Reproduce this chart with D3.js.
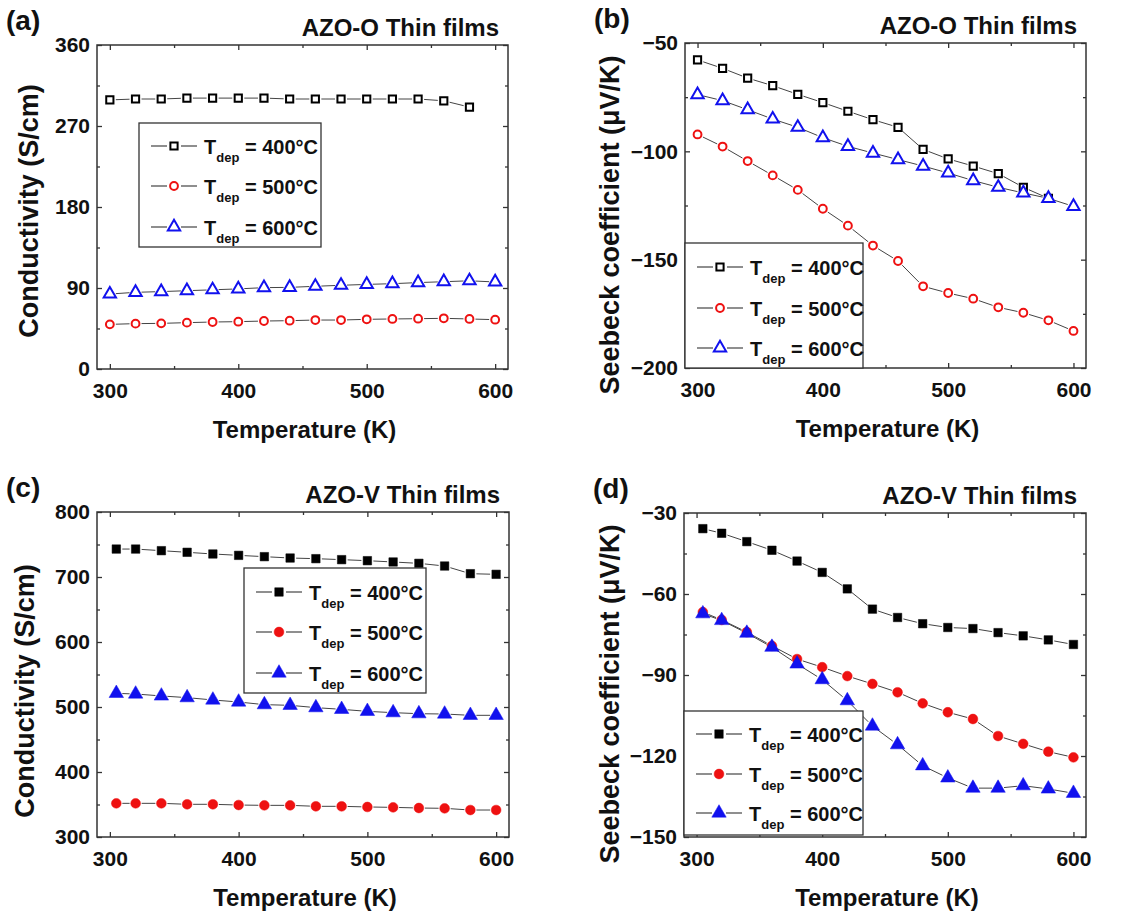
<!DOCTYPE html>
<html>
<head>
<meta charset="utf-8">
<script src="https://cdn.jsdelivr.net/npm/d3@7"></script>
<style>
  body { margin: 0; background: #fff; }
  text { font-family: "Liberation Sans", Arial, sans-serif; font-weight: bold; fill: #111; }
</style>
</head>
<body>
<svg id="chart" width="1144" height="912"></svg>
<script>
// temperaturas (K)
const tempsO = [300, 320, 340, 360, 380, 400, 420, 440, 460, 480, 500, 520, 540, 560, 580, 600];
const tempsV = [305, 320, 340, 360, 380, 400, 420, 440, 460, 480, 500, 520, 540, 560, 580, 600];

// (a) conductividad AZO-O
const condO400 = [299, 300, 300, 301, 301, 301, 301, 300, 300, 300, 300, 300, 300, 298, 291];
const condO500 = [49.6, 50.4, 50.7, 51.5, 52.2, 52.6, 53.3, 53.7, 54.4, 54.4, 55.2, 55.6, 55.9, 56.3, 55.6, 54.8];
const condO600 = [83.3, 85.2, 86, 87, 88, 89, 90.4, 90.7, 91.9, 93, 94, 94.8, 96, 97, 98, 96.7];

// (b) Seebeck AZO-O
const seebO400 = [-57.8, -61.7, -66.2, -69.7, -73.7, -77.5, -81.5, -85.4, -88.9, -99.1, -103.5, -106.8, -110.3, -116.6, -121.7];
const seebO500 = [-92.2, -97.8, -104.5, -111.1, -117.8, -126.5, -134.3, -143.5, -150.6, -162.3, -165.4, -168, -172, -174.5, -178, -182.9];
const seebO600 = [-73.8, -76.6, -80.8, -85.1, -88.9, -93.7, -97.7, -100.8, -103.8, -106.8, -110, -113.5, -116.6, -119.2, -121.7, -125.4];

// (c) conductividad AZO-V
const condV400 = [743, 743, 740.5, 738, 735.4, 733.3, 731.3, 729.2, 728.2, 726.7, 725.1, 723.1, 721, 716.9, 705.1, 704.1];
const condV500 = [351.8, 351.8, 351.8, 350.3, 350.3, 349.2, 348.7, 348.7, 347.2, 347.2, 346.2, 345.6, 344.6, 344.1, 341.5, 341.5];
const condV600 = [521, 520, 517, 514.4, 510.8, 507.7, 503.6, 502.6, 499, 496.4, 493.3, 491.3, 489.7, 489.2, 487.2, 487.2];

// (d) Seebeck AZO-V
const seebV400 = [-35.8, -37.5, -40.6, -43.8, -47.8, -52, -58.1, -65.6, -68.7, -71, -72.4, -72.8, -74.3, -75.5, -77, -78.7];
const seebV500 = [-66.7, -69.6, -74.1, -79.2, -84.1, -87.1, -90.4, -93.3, -96.4, -100.5, -103.8, -106.3, -112.6, -115.5, -118.4, -120.5];
const seebV600 = [-67.3, -69.8, -74.5, -79.7, -85.9, -91.7, -99.5, -108.9, -115.8, -123.6, -128.1, -131.9, -131.9, -131, -132.2, -133.8];

const depTemps = ["400", "500", "600"];
const seriesColors = ["#000000", "#ee1111", "#1111ee"];
const seriesSymbols = [d3.symbolSquare, d3.symbolCircle, d3.symbolTriangle];
const xTicks = [300, 400, 500, 600];
const xMinor = [350, 450, 550];

const svg = d3.select("#chart");

const paneles = [
  { label: "(a)", title: "AZO-O Thin films", yTitle: "Conductivity (S/cm)",
    left: 97, right: 508, top: 45, bottom: 369,
    yDomain: [0, 360], yTicks: [0, 90, 180, 270, 360], yMinor: [45, 135, 225, 315],
    temps: tempsO, series: [condO400, condO500, condO600], filled: false,
    yTitleX: 38, yTitleY: 211, legend: { x: 139, y: 123, w: 182, h: 124, rows: [23, 63, 104] } },
  { label: "(b)", title: "AZO-O Thin films", yTitle: "Seebeck coefficient (\u03bcV/K)",
    left: 685, right: 1086, top: 43, bottom: 368,
    yDomain: [-200, -50], yTicks: [-200, -150, -100, -50], yMinor: [-175, -125, -75],
    temps: tempsO, series: [seebO400, seebO500, seebO600], filled: false,
    yTitleX: 619, yTitleY: 225, legend: { x: 685, y: 243, w: 178, h: 125, rows: [24, 65, 105] } },
  { label: "(c)", title: "AZO-V Thin films", yTitle: "Conductivity (S/cm)",
    left: 97, right: 509, top: 512, bottom: 837,
    yDomain: [300, 800], yTicks: [300, 400, 500, 600, 700, 800], yMinor: [350, 450, 550, 650, 750],
    temps: tempsV, series: [condV400, condV500, condV600], filled: true,
    yTitleX: 34, yTitleY: 691, legend: { x: 244, y: 568, w: 182, h: 125, rows: [24, 64, 105] } },
  { label: "(d)", title: "AZO-V Thin films", yTitle: "Seebeck coefficient (\u03bcV/K)",
    left: 684, right: 1086, top: 513, bottom: 837,
    yDomain: [-150, -30], yTicks: [-150, -120, -90, -60, -30], yMinor: [-135, -105, -75, -45],
    temps: tempsV, series: [seebV400, seebV500, seebV600], filled: true,
    yTitleX: 619, yTitleY: 694, legend: { x: 684, y: 711, w: 179, h: 124, rows: [23, 63, 102] } }
];

paneles.forEach(dibujarPanel);

function simbolo(i, filled) {
  // tamaños aproximados de los marcadores de Origin
  const sizesOpen = [52, 48, 66];
  const sizesFilled = [72, 75, 90];
  return d3.symbol().type(seriesSymbols[i]).size(filled ? sizesFilled[i] : sizesOpen[i]);
}

function pintarMarcador(g, i, filled, cx, cy) {
  g.append("path")
    .attr("d", simbolo(i, filled)())
    .attr("transform", "translate(" + cx + "," + cy + ")")
    .attr("fill", filled ? seriesColors[i] : "#fff")
    .attr("stroke", seriesColors[i])
    .attr("stroke-width", filled ? 0.5 : 2);
}

function dibujarPanel(p) {
  const x = d3.scaleLinear().domain([290, 610]).range([p.left, p.right]);
  const y = d3.scaleLinear().domain(p.yDomain).range([p.bottom, p.top]);
  const g = svg.append("g");

  // ejes con ticks hacia dentro
  g.append("g").attr("transform", "translate(0," + p.bottom + ")")
    .call(d3.axisBottom(x).tickValues(xTicks).tickSizeInner(-5).tickSizeOuter(0).tickPadding(14))
    .call(a => a.selectAll("text").attr("font-size", 21).attr("fill", "#111"));
  g.append("g").attr("transform", "translate(0," + p.bottom + ")")
    .call(d3.axisBottom(x).tickValues(xMinor).tickSizeInner(-3).tickSizeOuter(0).tickFormat(""));
  g.append("g").attr("transform", "translate(0," + p.top + ")")
    .call(d3.axisTop(x).tickValues(xTicks).tickSizeInner(-5).tickSizeOuter(0).tickFormat(""));
  g.append("g").attr("transform", "translate(0," + p.top + ")")
    .call(d3.axisTop(x).tickValues(xMinor).tickSizeInner(-3).tickSizeOuter(0).tickFormat(""));

  g.append("g").attr("transform", "translate(" + p.left + ",0)")
    .call(d3.axisLeft(y).tickValues(p.yTicks).tickSizeInner(-5).tickSizeOuter(0).tickPadding(7))
    .call(a => a.selectAll("text").attr("font-size", 21).attr("fill", "#111"));
  g.append("g").attr("transform", "translate(" + p.left + ",0)")
    .call(d3.axisLeft(y).tickValues(p.yMinor).tickSizeInner(-3).tickSizeOuter(0).tickFormat(""));
  g.append("g").attr("transform", "translate(" + p.right + ",0)")
    .call(d3.axisRight(y).tickValues(p.yTicks).tickSizeInner(-5).tickSizeOuter(0).tickFormat(""));
  g.append("g").attr("transform", "translate(" + p.right + ",0)")
    .call(d3.axisRight(y).tickValues(p.yMinor).tickSizeInner(-3).tickSizeOuter(0).tickFormat(""));

  g.selectAll(".domain").remove();
  g.selectAll(".tick line").attr("stroke", "#333").attr("stroke-width", 1.3);

  g.append("rect")
    .attr("x", p.left).attr("y", p.top)
    .attr("width", p.right - p.left).attr("height", p.bottom - p.top)
    .attr("fill", "none").attr("stroke", "#333").attr("stroke-width", 1.5);

  // series: segmentos con hueco alrededor del marcador
  const gap = 6;
  p.series.forEach(function (vals, i) {
    const pts = vals.map((v, k) => [x(p.temps[k]), y(v)]);
    for (let k = 0; k < pts.length - 1; k++) {
      const dx = pts[k + 1][0] - pts[k][0];
      const dy = pts[k + 1][1] - pts[k][1];
      const len = Math.sqrt(dx * dx + dy * dy);
      if (len <= 2 * gap) continue;
      const ux = dx / len, uy = dy / len;
      g.append("line")
        .attr("x1", pts[k][0] + ux * gap).attr("y1", pts[k][1] + uy * gap)
        .attr("x2", pts[k + 1][0] - ux * gap).attr("y2", pts[k + 1][1] - uy * gap)
        .attr("stroke", "#444").attr("stroke-width", 1);
    }
    pts.forEach(pt => pintarMarcador(g, i, p.filled, pt[0], pt[1]));
  });

  // leyenda
  const L = p.legend;
  const lg = g.append("g").attr("transform", "translate(" + L.x + "," + L.y + ")");
  lg.append("rect").attr("width", L.w).attr("height", L.h)
    .attr("fill", "#fff").attr("stroke", "#333").attr("stroke-width", 1.3);
  depTemps.forEach(function (t, i) {
    const ry = L.rows[i];
    lg.append("line").attr("x1", 12).attr("x2", 28).attr("y1", ry).attr("y2", ry)
      .attr("stroke", "#444").attr("stroke-width", 1.2);
    lg.append("line").attr("x1", 42).attr("x2", 58).attr("y1", ry).attr("y2", ry)
      .attr("stroke", "#444").attr("stroke-width", 1.2);
    pintarMarcador(lg, i, p.filled, 35, ry);
    const txt = lg.append("text").attr("x", 65).attr("y", ry + 8).attr("font-size", 20);
    txt.append("tspan").text("T");
    txt.append("tspan").attr("font-size", 13).attr("dy", 8).text("dep");
    txt.append("tspan").attr("dy", -8).text(" = " + t + "\u00b0C");
  });

  // textos
  g.append("text").attr("x", (p.left + p.right) / 2 + 2).attr("y", p.bottom + 69)
    .attr("text-anchor", "middle").attr("font-size", 24).text("Temperature (K)");
  g.append("text")
    .attr("transform", "translate(" + p.yTitleX + "," + p.yTitleY + ") rotate(-90)")
    .attr("text-anchor", "middle").attr("font-size", 27).text(p.yTitle);
  g.append("text").attr("x", p.right - 9).attr("y", p.top - 9)
    .attr("text-anchor", "end").attr("font-size", 24).text(p.title);
  g.append("text").attr("x", p.left - 91).attr("y", p.top - 15)
    .attr("font-size", 28).text(p.label);
}
</script>
</body>
</html>
